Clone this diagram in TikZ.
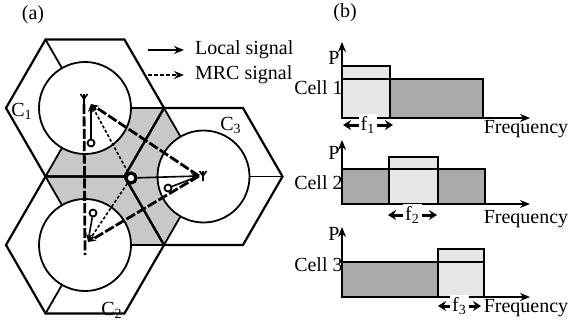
\documentclass[tikz,border=0pt]{standalone}
\usepackage{fontspec}
\setmainfont{Liberation Serif}
\usetikzlibrary{arrows.meta, calc}

\definecolor{cellGray}{RGB}{200,200,200}
\definecolor{barLight}{RGB}{230,230,230}
\definecolor{barDark}{RGB}{170,170,170}

\tikzset{antennaY/.pic={\draw[line width=0.8pt] (0,0) -- (0,-10) (0,-5) -- (-3.5,-10) (0,-5) -- (3.5,-10);}}

\begin{document}
\begin{tikzpicture}[
      x=0.5pt, y=-0.5pt,
      every node/.style={font=\rmfamily\normalsize},
      cellhex/.style={draw, line width=1.1pt, line join=miter},
      divider/.style={draw, line width=0.9pt},
      cover/.style={draw, fill=white, line width=0.9pt},
      user/.style={circle, draw, fill=white, line width=0.9pt, inner sep=0pt, minimum size=3.5pt},
      edgeuser/.style={circle, draw, fill=white, line width=1.6pt, inner sep=0pt, minimum size=5pt},
      local/.style={-{Stealth[length=4pt, width=3pt]}, line width=0.8pt},
      mrc/.style={-{Stealth[length=4pt, width=3pt]}, line width=0.8pt, dash pattern=on 1.5pt off 1pt},
      backhaul/.style={-{Stealth[length=4pt, width=3pt]}, line width=1.4pt, dash pattern=on 5pt off 1.2pt},
      mast/.style={line width=1.4pt, dash pattern=on 5pt off 1.2pt},
      legendarrow/.style={-{Stealth[length=5pt, width=4pt]}, line width=1pt},
      bar/.style={draw, line width=1.3pt},
      axis/.style={-{Stealth[length=5pt, width=4pt]}, line width=1pt},
      band/.style={{Stealth[length=4pt, width=5pt]}-{Stealth[length=4pt, width=5pt]}, line width=1.5pt}
    ]
      \useasboundingbox (0,0) rectangle (571,326);

      % (a) Three cells
      \coordinate (c1) at (85,108);
      \coordinate (c2) at (85,245);
      \coordinate (c3) at (203.5,176.5);
      \fill[cellGray] (c1) -- ($(c1)+(0:79)$) -- (c3) -- ($(c2)+(0:79)$) -- (c2) -- ($(c1)+(120:79)$) -- cycle;
      \foreach \c in {c1,c2,c3} {
        \draw[cellhex] ($(\c)+(0:79)$) -- ($(\c)+(60:79)$) -- ($(\c)+(120:79)$) -- ($(\c)+(180:79)$) -- ($(\c)+(240:79)$) -- ($(\c)+(300:79)$) -- cycle;
        \foreach \a in {0,120,240} \draw[divider] (\c) -- ($(\c)+(\a:79)$);
      }
      \foreach \c in {c1,c2,c3} \draw[cover] (\c) circle[radius=46];

      % Base stations and users
      \coordinate (bs1) at (91,104);
      \coordinate (bs2) at (88,242);
      \coordinate (bs3) at (199,176);
      \coordinate (mast2) at (85,255);
      \pic at (84,104) {antennaY};
      \pic at (203,181) {antennaY};
      \node[user] (u1) at (91,143) {};
      \node[user] (u2) at (93,213) {};
      \node[user] (u3) at (168,188) {};
      \node[edgeuser] (u0) at (131,178) {};

      % Signals
      \draw[mast] (84,104) -- (mast2);
      \draw[backhaul] (bs3) -- (bs1);
      \draw[backhaul] (bs3) -- (bs2);
      \draw[local] (u1) -- (bs1);
      \draw[local] (u2) -- (bs2);
      \draw[local] (u3) -- (bs3);
      \draw[local] (u0) -- (bs3);
      \draw[mrc] (u0) -- (bs1);
      \draw[mrc] (u0) -- (bs2);

      % Labels and legend
      \node (lblA) at (33,15) {(a)};
      \node (lblC1) at (22,111) {C\textsubscript{1}};
      \node (lblC2) at (112,310) {C\textsubscript{2}};
      \node (lblC3) at (231,125) {C\textsubscript{3}};
      \node[anchor=west] (lgLocal) at (188,50) {Local signal};
      \node[anchor=west] (lgMrc) at (188,75) {MRC signal};
      \coordinate (lgA1) at (148,50);
      \coordinate (lgA2) at (148,75);
      \draw[legendarrow] (lgA1) -- ($(lgLocal.west)+(-4,0)$);
      \draw[legendarrow, dash pattern=on 2pt off 1pt] (lgA2) -- ($(lgMrc.west)+(-4,0)$);

      % (b) Spectrum of each cell
      \node (lblB) at (345,13) {(b)};

      % Cell 1
      \draw[bar, fill=barLight] (342,118) rectangle (390,79);
      \draw[bar, fill=barLight] (342,79) rectangle (390,66);
      \draw[bar, fill=barDark] (390,118) rectangle (483,79);
      \coordinate (o1) at (342,118);
      \coordinate (y1) at (342,42);
      \coordinate (x1) at (530,118);
      \draw[axis] (o1) -- (y1);
      \draw[axis] (o1) -- (x1);
      \node (p1) at (334,58) {P};
      \node[anchor=east, inner sep=0pt] (cell1) at (343,88) {Cell 1};
      \node (freq1) at (526,129) {Frequency};
      \coordinate (f1a) at (343,125);
      \coordinate (f1b) at (393,125);
      \draw[band] (f1a) -- node[fill=white, inner sep=1pt] {f\textsubscript{1}} (f1b);

      % Cell 2
      \draw[bar, fill=barDark] (342,204) rectangle (389,169);
      \draw[bar, fill=barLight] (389,204) rectangle (438,169);
      \draw[bar, fill=barLight] (389,169) rectangle (438,157);
      \draw[bar, fill=barDark] (438,204) rectangle (485,169);
      \coordinate (o2) at (342,204);
      \coordinate (y2) at (342,140);
      \coordinate (x2) at (530,204);
      \draw[axis] (o2) -- (y2);
      \draw[axis] (o2) -- (x2);
      \node (p2) at (334,153) {P};
      \node[anchor=east, inner sep=0pt] (cell2) at (343,183) {Cell 2};
      \node (freq2) at (526,219) {Frequency};
      \coordinate (f2a) at (388,215);
      \coordinate (f2b) at (437,215);
      \draw[band] (f2a) -- node[fill=white, inner sep=1pt] {f\textsubscript{2}} (f2b);

      % Cell 3
      \draw[bar, fill=barDark] (342,297) rectangle (438,262);
      \draw[bar, fill=barLight] (438,297) rectangle (484,262);
      \draw[bar, fill=barLight] (438,262) rectangle (484,249);
      \coordinate (o3) at (342,297);
      \coordinate (y3) at (342,227);
      \coordinate (x3) at (530,297);
      \draw[axis] (o3) -- (y3);
      \draw[axis] (o3) -- (x3);
      \node (p3) at (334,234) {P};
      \node[anchor=east, inner sep=0pt] (cell3) at (343,265) {Cell 3};
      \node (freq3) at (526,308) {Frequency};
      \coordinate (f3a) at (438,306);
      \coordinate (f3b) at (481,306);
      \draw[band] (f3a) -- node[fill=white, inner sep=1pt] {f\textsubscript{3}} (f3b);
    \end{tikzpicture}
\end{document}
